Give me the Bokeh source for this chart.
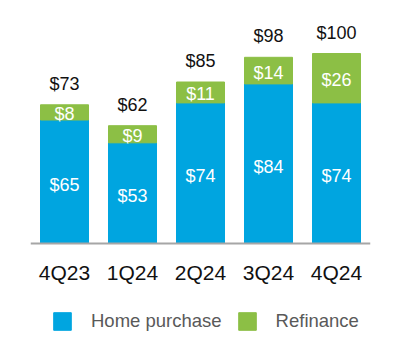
from bokeh.plotting import figure
from bokeh.models import FactorRange, Range1d, Legend, LegendItem, ColumnDataSource, Span
from bokeh.core.properties import value
from bokeh.embed import file_html
from bokeh.resources import INLINE

quarters = ["4Q23", "1Q24", "2Q24", "3Q24", "4Q24"]
home_purchase = [65, 53, 74, 84, 74]
refinance = [8, 9, 11, 14, 26]
totals = [73, 62, 85, 98, 100]

BLUE = "#00A5E0"
GREEN = "#8CBF45"
FONT = value("Liberation Sans")

src = ColumnDataSource(dict(
    q=quarters,
    home=home_purchase,
    refi=refinance,
    top=[h + r for h, r in zip(home_purchase, refinance)],
    total=totals,
    zero=[0] * len(quarters),
    home_mid=[h / 2 for h in home_purchase],
    refi_mid=[h + r / 2 for h, r in zip(home_purchase, refinance)],
    home_lbl=["$%d" % v for v in home_purchase],
    refi_lbl=["$%d" % v for v in refinance],
    total_lbl=["$%d" % v for v in totals],
))

PX = 1.9  # pixels per $1
p = figure(width=384, height=348, x_range=FactorRange(factors=quarters, range_padding=0),
           y_range=Range1d(-105 / PX, 243 / PX), output_backend="svg", toolbar_location=None,
           min_border_left=30, min_border_right=14, min_border_top=0, min_border_bottom=0)
p.outline_line_color = None
p.grid.visible = False
p.axis.visible = False

blue_r = p.vbar(x="q", bottom=0, top="home", width=48 / 68, color=BLUE, source=src)
green_r = p.vbar(x="q", bottom="home", top="top", width=48 / 68, color=GREEN, source=src)

p.add_layout(Span(location=0, dimension="width", line_color="#A6A6A6", line_width=2))

p.text(x="q", y="home_mid", text="home_lbl", source=src, text_font=FONT, text_font_size="18px",
       text_color="white", text_align="center", text_baseline="middle", y_offset=3)
p.text(x="q", y="refi_mid", text="refi_lbl", source=src, text_font=FONT, text_font_size="18px",
       text_color="white", text_align="center", text_baseline="middle", y_offset=2)
p.text(x="q", y="total", text="total_lbl", source=src, text_font=FONT, text_font_size="18px",
       text_color="#111111", text_align="center", text_baseline="middle", y_offset=-21)
p.text(x="q", y="zero", text="q", source=src, text_font=FONT, text_font_size="21px",
       text_color="#111111", text_align="center", text_baseline="middle", y_offset=29)

legend = Legend(items=[LegendItem(label="Home purchase", renderers=[blue_r]),
                       LegendItem(label="Refinance", renderers=[green_r])],
                orientation="horizontal", location=(21, 16),
                glyph_width=22, glyph_height=22, label_standoff=18, spacing=14,
                padding=0, margin=0, border_line_color=None, background_fill_alpha=0,
                label_text_font="Liberation Sans", label_text_font_size="18.5px",
                label_text_color="#595959", label_height=22)
p.add_layout(legend, "center")

open("out.html", "w").write(file_html(p, INLINE))
